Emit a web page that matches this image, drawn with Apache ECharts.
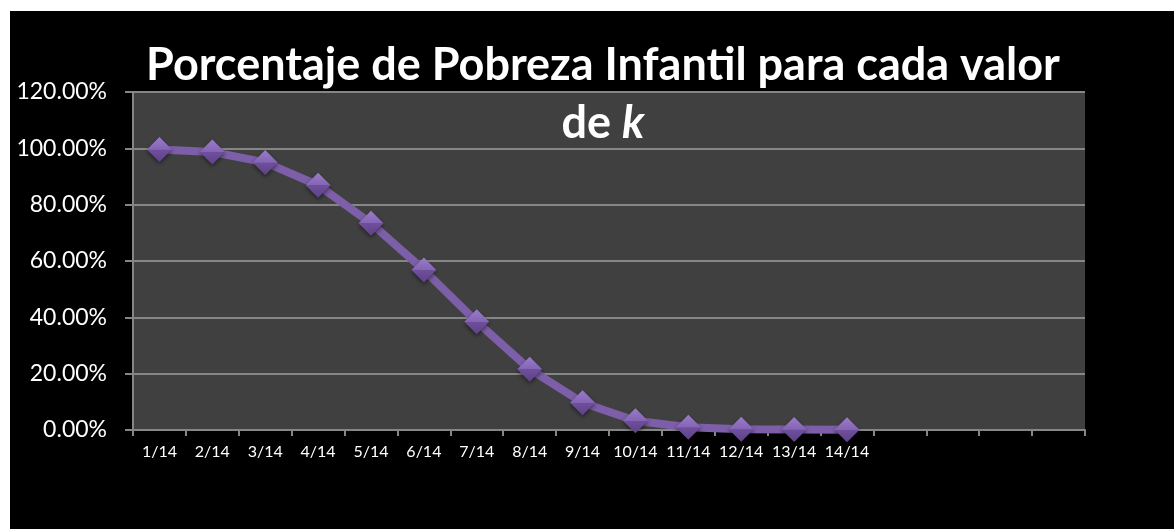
<!DOCTYPE html>
<html>
<head>
<meta charset="utf-8">
<script src="https://cdn.jsdelivr.net/npm/echarts@6/dist/echarts.min.js"></script>
<style>
html,body{margin:0;padding:0;background:#ffffff;width:1174px;height:529px;overflow:hidden;}
#chart{position:absolute;left:10px;top:11px;width:1164px;height:518px;background:#000000;}
</style>
</head>
<body>
<div id="chart"></div>
<script>
const categories = ['1/14','2/14','3/14','4/14','5/14','6/14','7/14','8/14','9/14','10/14','11/14','12/14','13/14','14/14','','','',''];
const values = [99.6, 98.7, 95.0, 86.9, 73.4, 56.8, 38.4, 21.6, 9.7, 3.3, 0.95, 0.25, 0.2, 0.05];
const yTicks = {min: 0, max: 120, interval: 20};

const chart = echarts.init(document.getElementById('chart'));
chart.setOption({
  backgroundColor: '#000000',
  animation: false,
  title: {
    text: 'Porcentaje de Pobreza Infantil para cada valor\nde {i|k}',
    left: 588,
    textAlign: 'center',
    top: 20,
    textStyle: {
      color: '#ffffff',
      fontFamily: 'Lato',
      fontWeight: 'bold',
      fontSize: 45,
      lineHeight: 58,
      rich: {
        i: {color: '#ffffff', fontFamily: 'Lato', fontWeight: 'bold', fontStyle: 'italic', fontSize: 45, lineHeight: 58}
      }
    }
  },
  grid: {left: 123, top: 81, right: 89, bottom: 99, backgroundColor: '#404040', show: true, borderWidth: 0},
  xAxis: {
    type: 'category',
    data: categories,
    boundaryGap: true,
    axisLine: {lineStyle: {color: '#868686', width: 2}},
    axisTick: {show: true, length: 6, lineStyle: {color: '#868686', width: 2}},
    axisLabel: {interval: 0, color: '#ffffff', fontFamily: 'Lato', fontSize: 16, margin: 14}
  },
  yAxis: {
    type: 'value',
    min: yTicks.min, max: yTicks.max, interval: yTicks.interval,
    axisLine: {show: true, lineStyle: {color: '#868686', width: 2}},
    axisTick: {show: true, length: 8, lineStyle: {color: '#868686', width: 2}},
    splitLine: {lineStyle: {color: '#868686', width: 2}},
    axisLabel: {color: '#ffffff', fontFamily: 'Lato', fontSize: 23, margin: 26,
      formatter: v => v.toFixed(2) + '%'}
  },
  series: [{
    type: 'line',
    data: values,
    symbol: 'diamond',
    symbolSize: 25,
    lineStyle: {color: '#7d5ea8', width: 8},
    itemStyle: {
      color: new echarts.graphic.LinearGradient(0, 0, 0, 1, [
        {offset: 0, color: '#9b7ccb'},
        {offset: 0.5, color: '#8464b4'},
        {offset: 0.51, color: '#6f4f9c'},
        {offset: 1, color: '#5e4288'}
      ]),
      shadowColor: 'rgba(0,0,0,0.5)', shadowBlur: 4, shadowOffsetY: 2
    },
    z: 3
  }]
});
</script>
</body>
</html>
